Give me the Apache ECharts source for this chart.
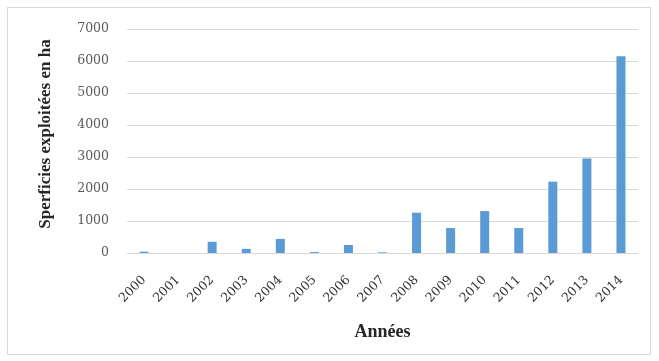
<!DOCTYPE html>
<html>
<head>
<meta charset="utf-8">
<script src="https://cdn.jsdelivr.net/npm/echarts@6/dist/echarts.min.js"></script>
<style>
  html, body { margin: 0; padding: 0; background: #ffffff; }
  #frame { position: absolute; left: 7px; top: 7px; width: 644px; height: 348px; border: 1px solid #d9d9d9; box-sizing: border-box; }
  #chart { position: absolute; left: 0; top: 0; width: 659px; height: 361px; }
</style>
</head>
<body>
<div id="frame"></div>
<div id="chart"></div>
<script>
// Surfaces exploitées par année (ha)
const years = ['2000','2001','2002','2003','2004','2005','2006','2007','2008','2009','2010','2011','2012','2013','2014'];
const surfaces = [40, 0, 350, 130, 440, 30, 250, 20, 1260, 780, 1310, 780, 2230, 2950, 6150];
const yTicks = { min: 0, max: 7000, interval: 1000 };

const serif = '"Liberation Serif", "Times New Roman", serif';
const tickFont = '"DejaVu Serif", serif';
const chart = echarts.init(document.getElementById('chart'), null, { renderer: 'canvas' });
chart.setOption({
  animation: false,
  backgroundColor: 'transparent',
  grid: { left: 127, right: 21, top: 29, bottom: 108, containLabel: false },
  xAxis: {
    type: 'category',
    data: years,
    name: 'Années',
    nameLocation: 'middle',
    nameGap: 70,
    nameTextStyle: { fontFamily: serif, fontWeight: 'bold', fontSize: 18, color: '#262626' },
    axisLine: { show: true, lineStyle: { color: '#d9d9d9' } },
    axisTick: { show: false },
    axisLabel: {
      rotate: 45, fontFamily: tickFont, fontSize: 12.5, color: '#333333',
      margin: 25, interval: 0
    }
  },
  yAxis: {
    type: 'value',
    min: yTicks.min,
    max: yTicks.max,
    interval: yTicks.interval,
    name: 'Sperficies exploitées en ha',
    nameLocation: 'middle',
    nameGap: 73,
    nameTextStyle: { fontFamily: serif, fontWeight: 'bold', fontSize: 17, color: '#262626', padding: [0, 0, 0, 14] },
    axisLine: { show: false },
    axisTick: { show: false },
    axisLabel: {
      fontFamily: tickFont, fontSize: 12.5, color: '#595959', margin: 18,
      formatter: v => String(v)
    },
    splitLine: { lineStyle: { color: '#d9d9d9', width: 1 } }
  },
  series: [{
    type: 'bar',
    data: surfaces,
    barWidth: 9,
    itemStyle: { color: '#5b9bd5' }
  }]
});
</script>
</body>
</html>
